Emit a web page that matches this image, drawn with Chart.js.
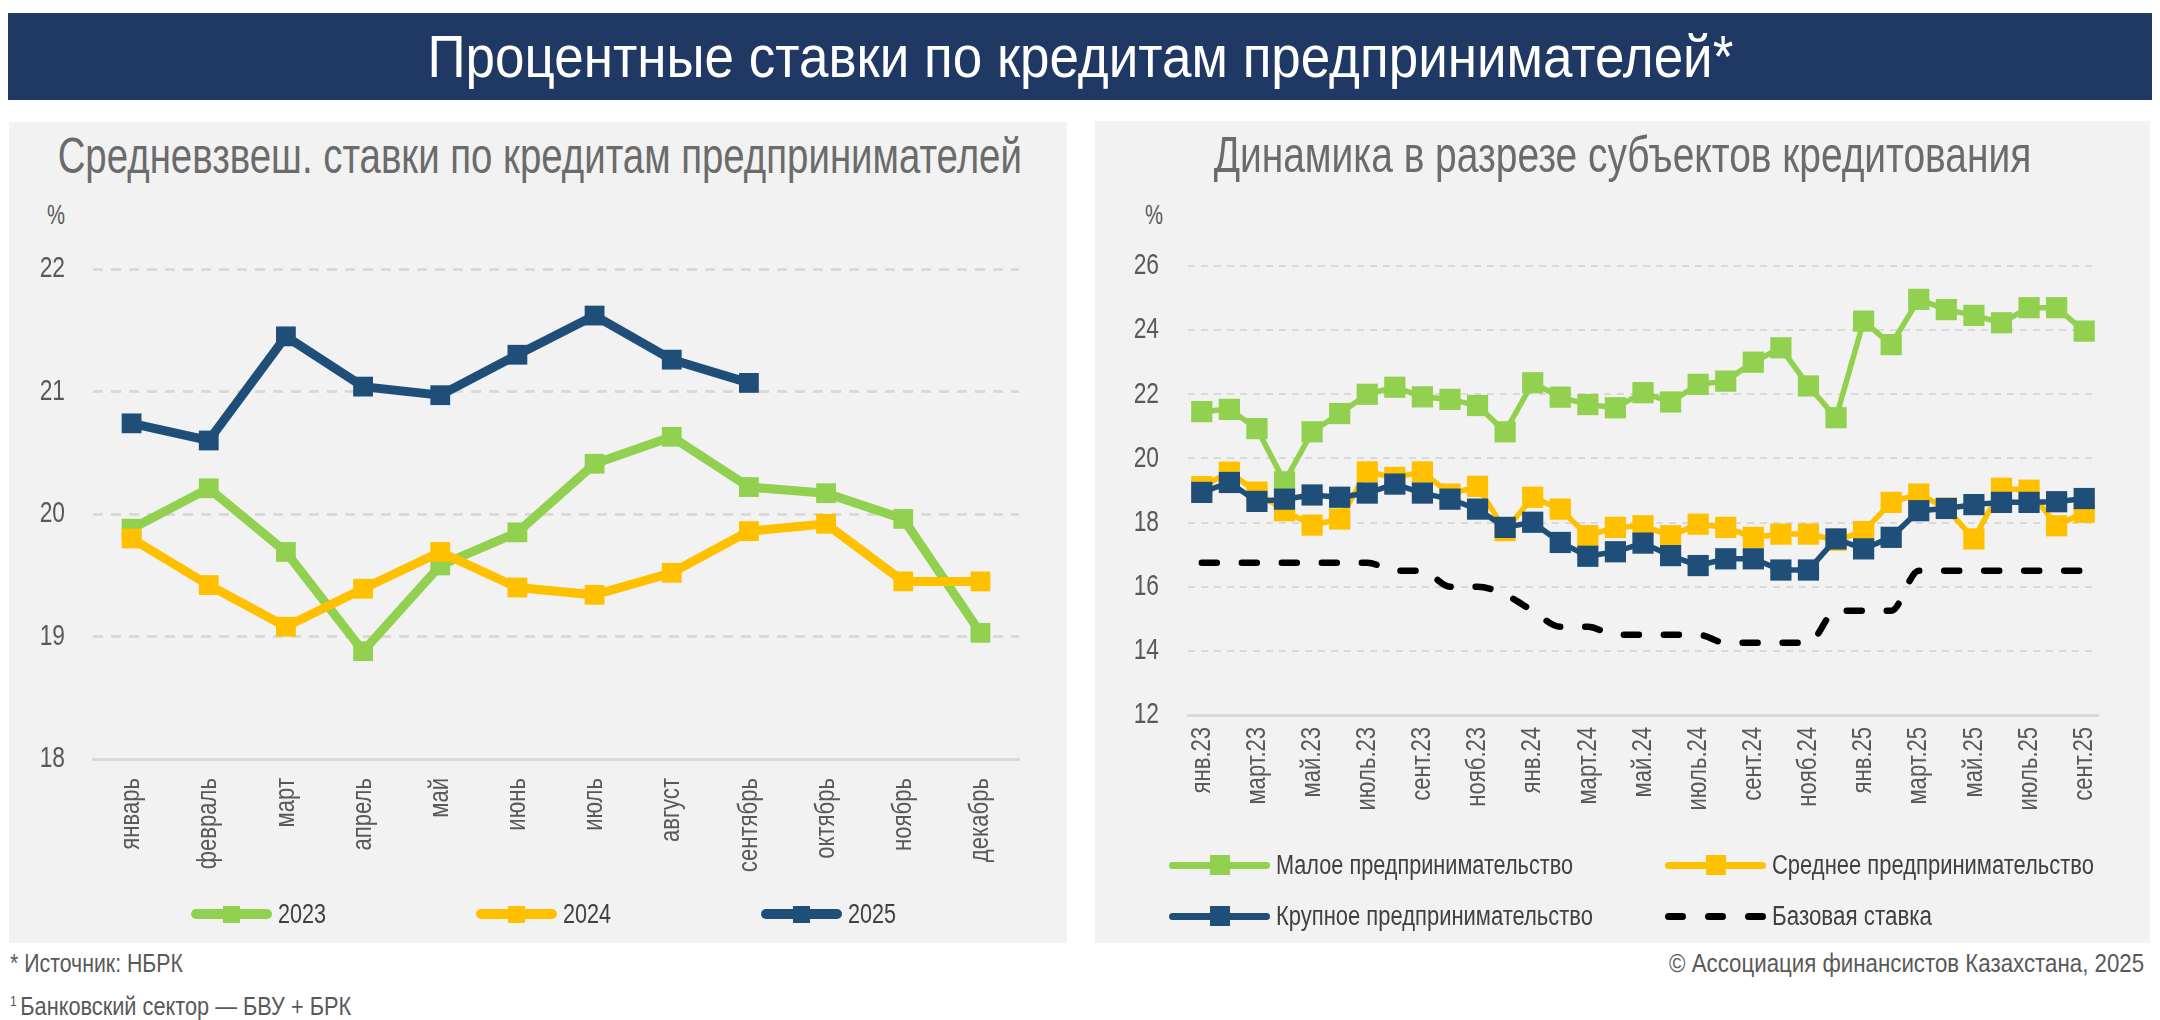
<!DOCTYPE html>
<html lang="ru">
<head>
<meta charset="utf-8">
<title>Процентные ставки по кредитам предпринимателей</title>
<script src="https://cdn.jsdelivr.net/npm/chart.js@4.4.1/dist/chart.umd.min.js"></script>
<style>
  html, body { margin: 0; padding: 0; background: #fff; width: 2160px; height: 1020px; overflow: hidden; }
  body { position: relative; font-family: "Liberation Sans", Arial, sans-serif; }
  .fit { display: inline-block; white-space: nowrap; }
  .banner { position: absolute; left: 8px; top: 13px; width: 2144px; height: 87px; background: #1f3864;
            color: #fff; font-size: 60px; line-height: 87px; text-align: center; }
  .panel { position: absolute; background: #f2f2f2; }
  #panelLeft { left: 9px; top: 122px; width: 1058px; height: 821px; }
  #panelRight { left: 1095px; top: 121px; width: 1055px; height: 822px; }
  .panel canvas { position: absolute; left: 0; top: 0; }
  .sub { position: absolute; left: -400px; right: -400px; top: 8px; height: 52px; line-height: 52px; text-align: center;
         color: #6b6b6b; font-size: 50px; }
  .pct { position: absolute; font-size: 28px; color: #595959; line-height: 30px; }
  .pct .fit { transform-origin: left center; }
  .legend { position: absolute; display: grid; align-items: center; color: #404040; font-size: 28px; }
  .item { display: flex; align-items: center; height: 30px; white-space: nowrap; }
  .item .fit { transform-origin: left center; }
  .sym { position: relative; display: inline-block; flex: none; height: 30px; margin-right: 6px; }
  .sym::before { content: ""; position: absolute; left: 0; right: 0; top: 50%; height: var(--lw); margin-top: calc(var(--lw) / -2);
                 background: var(--c); border-radius: 5px; }
  .sym::after { content: ""; position: absolute; left: 50%; top: 50%; width: var(--sq); height: var(--sq);
                margin: calc(var(--sq) / -2) 0 0 calc(var(--sq) / -2); background: var(--c); }
  .sym.dash::before, .sym.dash::after { display: none; }
  .sym.dash i { position: absolute; top: 12px; width: 21px; height: 7px; border-radius: 4px; background: #000; }
  .note { position: absolute; color: #595959; font-size: 25px; line-height: 30px; white-space: nowrap; }
  .note sup { font-size: 14px; vertical-align: 9px; margin-right: 4px; }
</style>
</head>
<body>
<div class="banner"><span class="fit" data-w="1306">Процентные ставки по кредитам предпринимателей*</span></div>

<div class="panel" id="panelLeft">
  <div class="sub" style="margin-left:4px;"><span class="fit" data-w="964">Средневзвеш. ставки по кредитам предпринимателей</span></div>
  <div class="pct" style="left:38px; top:78px;"><span class="fit" data-w="18">%</span></div>
  <canvas id="leftChart" width="1058" height="800"></canvas>
  <div class="legend" id="legendLeft" style="left:182px; top:777px; grid-template-columns: 285px 285px 285px;"></div>
</div>

<div class="panel" id="panelRight">
  <div class="sub"><span class="fit" data-w="818">Динамика в разрезе субъектов кредитования</span></div>
  <div class="pct" style="left:50px; top:79px;"><span class="fit" data-w="18">%</span></div>
  <canvas id="rightChart" width="1055" height="800"></canvas>
  <div class="legend" id="legendRight" style="left:74px; top:729px; grid-template-columns: 496px 400px; row-gap: 21px; font-size: 27px;"></div>
</div>

<div class="note" style="left:10px; top:948px;"><span class="fit" data-w="173" style="transform-origin:left center;">* Источник: НБРК</span></div>
<div class="note" style="left:10px; top:986px;"><span class="fit" data-w="341" style="transform-origin:left center;"><sup>1</sup>Банковский сектор — БВУ + БРК</span></div>
<div class="note" style="right:16px; top:948px;"><span class="fit" data-w="475" style="transform-origin:right center;">© Ассоциация финансистов Казахстана, 2025</span></div>

<script>
// левый график: по месяцам года
const months = ['январь', 'февраль', 'март', 'апрель', 'май', 'июнь', 'июль', 'август', 'сентябрь', 'октябрь', 'ноябрь', 'декабрь'];
const years = ['2023', '2024', '2025'];
const rates2023 = [19.88, 20.21, 19.69, 18.88, 19.58, 19.85, 20.41, 20.63, 20.22, 20.17, 19.96, 19.03];
const rates2024 = [19.80, 19.42, 19.08, 19.39, 19.69, 19.40, 19.34, 19.52, 19.86, 19.92, 19.45, 19.45];
const rates2025 = [20.74, 20.60, 21.45, 21.04, 20.97, 21.30, 21.62, 21.26, 21.07];
const leftTicks = [18, 19, 20, 21, 22];

// правый график: помесячно янв.23 - сент.25
const periods = [
  'янв.23', 'февр.23', 'март.23', 'апр.23', 'май.23', 'июнь.23', 'июль.23', 'авг.23', 'сент.23', 'окт.23', 'нояб.23', 'дек.23',
  'янв.24', 'февр.24', 'март.24', 'апр.24', 'май.24', 'июнь.24', 'июль.24', 'авг.24', 'сент.24', 'окт.24', 'нояб.24', 'дек.24',
  'янв.25', 'февр.25', 'март.25', 'апр.25', 'май.25', 'июнь.25', 'июль.25', 'авг.25', 'сент.25'
];
const seriesNames = ['Малое предпринимательство', 'Среднее предпринимательство', 'Крупное предпринимательство', 'Базовая ставка'];
const smallBiz = [21.46, 21.53, 20.93, 19.27, 20.83, 21.40, 22.00, 22.22, 21.92, 21.84, 21.65, 20.83,
                  22.36, 21.91, 21.68, 21.58, 22.05, 21.76, 22.31, 22.41, 23.00, 23.45, 22.26, 21.27,
                  24.28, 23.55, 24.96, 24.64, 24.46, 24.23, 24.70, 24.70, 23.97];
const mediumBiz = [19.12, 19.57, 18.95, 18.37, 17.92, 18.11, 19.58, 19.41, 19.58, 18.89, 19.13, 17.75,
                   18.79, 18.42, 17.59, 17.85, 17.90, 17.59, 17.95, 17.85, 17.54, 17.64, 17.64, 17.45,
                   17.72, 18.63, 18.89, 18.45, 17.49, 19.07, 19.01, 17.90, 18.32];
const largeBiz = [18.94, 19.25, 18.66, 18.73, 18.86, 18.79, 18.92, 19.20, 18.92, 18.73, 18.42, 17.85,
                  18.01, 17.38, 16.95, 17.09, 17.36, 16.97, 16.66, 16.87, 16.87, 16.52, 16.52, 17.49,
                  17.18, 17.54, 18.37, 18.44, 18.56, 18.63, 18.63, 18.65, 18.75];
const baseRate = [16.75, 16.75, 16.75, 16.75, 16.75, 16.75, 16.75, 16.5, 16.5, 16.0, 16.0, 15.75,
                  15.25, 14.75, 14.75, 14.5, 14.5, 14.5, 14.5, 14.25, 14.25, 14.25, 14.25, 15.25,
                  15.25, 15.25, 16.5, 16.5, 16.5, 16.5, 16.5, 16.5, 16.5];
const rightTicks = [12, 14, 16, 18, 20, 22, 24, 26];

const GREEN = '#92d050';
const GOLD = '#ffc000';
const NAVY = '#1f4e79';
const GRID = '#d9d9d9';
const TICK = '#595959';
const SANS = '"Liberation Sans", Arial, sans-serif';

// в оригинале узкий шрифт подписей осей - сжимаем подписи при отрисовке
const condenseTicks = {
  id: 'condenseTicks',
  beforeDraw(chart, args, opts) {
    const sx = chart.scales.x, sy = chart.scales.y;
    if (!sx._condensed) {
      const drawX = sx.drawLabels.bind(sx);
      sx.drawLabels = function (area) {
        const ctx = this.ctx;
        ctx.save();
        ctx.translate(0, this.top);
        ctx.scale(1, opts.x);
        ctx.translate(0, -this.top);
        drawX(area);
        ctx.restore();
      };
      sx._condensed = true;
    }
    if (!sy._condensed) {
      const drawY = sy.drawLabels.bind(sy);
      sy.drawLabels = function (area) {
        const ctx = this.ctx;
        const pivot = this.right - this.options.ticks.padding;
        ctx.save();
        ctx.translate(pivot, 0);
        ctx.scale(opts.y, 1);
        ctx.translate(-pivot, 0);
        drawY(area);
        ctx.restore();
      };
      sy._condensed = true;
    }
  }
};

function lineSet(label, data, color, width, radius, order) {
  return {
    label: label, data: data, order: order,
    borderColor: color, backgroundColor: color,
    borderWidth: width, tension: 0,
    pointStyle: 'rect', pointRadius: radius, pointBorderWidth: 0,
    pointBackgroundColor: color
  };
}

function baseOptions(o) {
  return {
    responsive: false,
    animation: false,
    layout: { padding: o.padding },
    plugins: {
      legend: { display: false },
      tooltip: { enabled: false },
      condenseTicks: { x: 0.79, y: 0.76 }
    },
    scales: {
      x: {
        offset: true,
        grid: { display: false, drawTicks: false },
        border: { display: true, color: GRID, width: 3 },
        ticks: {
          autoSkip: false, minRotation: 90, maxRotation: 90, padding: o.xPad,
          color: TICK, font: { family: SANS, size: 28 },
          callback: o.xLabel
        },
        afterFit: s => { s.height = o.xHeight; s.paddingLeft = 0; s.paddingRight = 0; }
      },
      y: {
        min: o.ticks[0], max: o.ticks[o.ticks.length - 1],
        afterBuildTicks: s => { s.ticks = o.ticks.map(v => ({ value: v })); },
        grid: { color: GRID, lineWidth: o.gridWidth, drawTicks: false },
        border: { display: false, dash: o.gridDash },
        ticks: { padding: o.yPad, color: TICK, font: { family: SANS, size: 30 } },
        afterFit: s => { s.width = o.yWidth; s.paddingTop = 0; s.paddingBottom = 0; }
      }
    }
  };
}

new Chart(document.getElementById('leftChart'), {
  type: 'line',
  data: {
    labels: months,
    datasets: [
      lineSet(years[0], rates2023, GREEN, 9, 14, 3),
      lineSet(years[1], rates2024, GOLD, 9, 14, 2),
      lineSet(years[2], rates2025, NAVY, 9, 14, 1)
    ]
  },
  options: baseOptions({
    padding: { top: 147, right: 48, left: 0, bottom: 0 },
    ticks: leftTicks, yWidth: 84, yPad: 28, xHeight: 163, xPad: 24,
    gridWidth: 3, gridDash: [10, 8],
    xLabel: function (v, i) { return months[i]; }
  }),
  plugins: [condenseTicks]
});

const baseSet = {
  label: seriesNames[3], data: baseRate, order: 0,
  borderColor: '#000', borderWidth: 6.5, borderDash: [15, 25], borderCapStyle: 'round',
  cubicInterpolationMode: 'monotone', pointRadius: 0, fill: false
};

new Chart(document.getElementById('rightChart'), {
  type: 'line',
  data: {
    labels: periods,
    datasets: [
      lineSet(seriesNames[0], smallBiz, GREEN, 5.5, 15, 3),
      lineSet(seriesNames[1], mediumBiz, GOLD, 5.5, 15, 2),
      lineSet(seriesNames[2], largeBiz, NAVY, 5.5, 15, 1),
      baseSet
    ]
  },
  options: baseOptions({
    padding: { top: 145, right: 52, left: 0, bottom: 0 },
    ticks: rightTicks, yWidth: 93, yPad: 29, xHeight: 206, xPad: 15,
    gridWidth: 2, gridDash: [7, 6],
    xLabel: function (v, i) { return i % 2 === 0 ? periods[i] : ''; }
  }),
  plugins: [condenseTicks]
});

// легенды
function legendItem(name, color, width, dashed, textWidth) {
  const it = document.createElement('div');
  it.className = 'item';
  const sym = document.createElement('span');
  sym.className = 'sym' + (dashed ? ' dash' : '');
  sym.style.width = width + 'px';
  sym.style.setProperty('--c', color);
  sym.style.setProperty('--lw', width > 90 ? '7px' : '10px');
  sym.style.setProperty('--sq', width > 90 ? '20px' : '17px');
  if (dashed) {
    [0, 40, 80].forEach(x => { const d = document.createElement('i'); d.style.left = x + 'px'; sym.appendChild(d); });
  }
  const txt = document.createElement('span');
  txt.className = 'fit';
  txt.dataset.w = textWidth;
  txt.textContent = name;
  it.appendChild(sym);
  it.appendChild(txt);
  return it;
}
const legL = document.getElementById('legendLeft');
[GREEN, GOLD, NAVY].forEach((c, i) => legL.appendChild(legendItem(years[i], c, 81, false, 48)));
const legR = document.getElementById('legendRight');
const rightTextW = [297, 322, 317, 160];
[GREEN, GOLD, NAVY, '#000'].forEach((c, i) => legR.appendChild(legendItem(seriesNames[i], c, 101, i === 3, rightTextW[i])));

// узкий шрифт оригинала: сжимаем текст по ширине
document.querySelectorAll('.fit').forEach(el => {
  const w = el.getBoundingClientRect().width;
  el.style.transform = 'scaleX(' + (el.dataset.w / w).toFixed(3) + ')';
});
</script>
</body>
</html>
